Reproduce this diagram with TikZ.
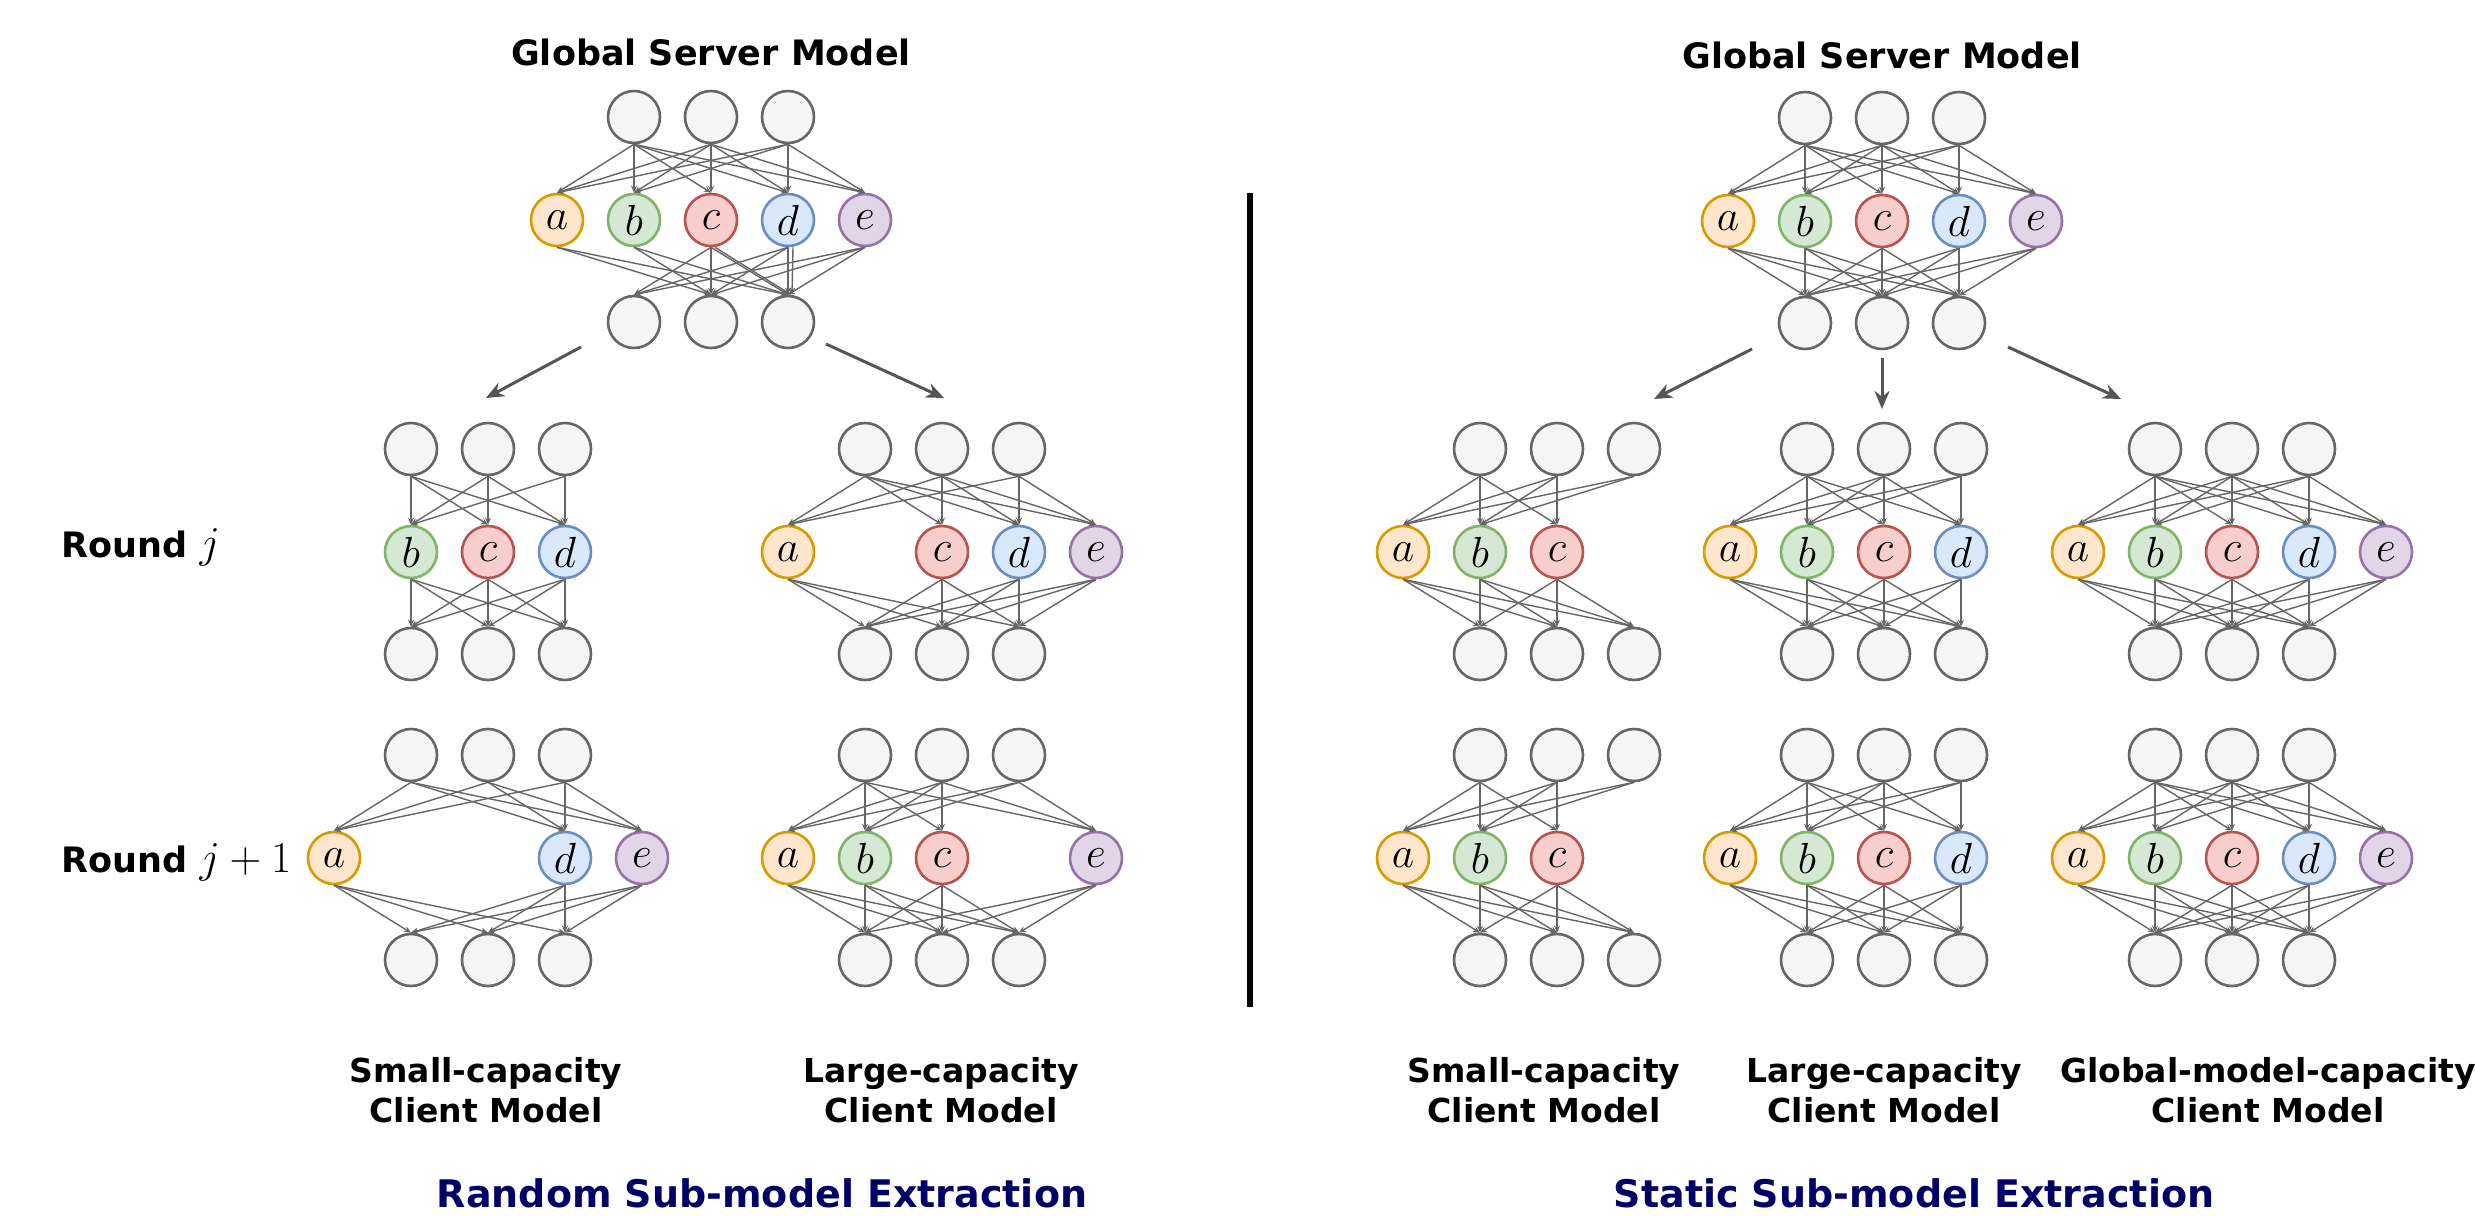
\documentclass[tikz,border=0pt]{standalone}
\usepackage{graphicx}
\usepackage{fontspec}
\setmainfont{DejaVu Sans}
\usetikzlibrary{arrows.meta}
\definecolor{gfill}{HTML}{F5F5F5}\definecolor{gline}{HTML}{666666}
\definecolor{afill}{HTML}{FFE6CC}\definecolor{aline}{HTML}{D79B00}
\definecolor{bfill}{HTML}{D5E8D4}\definecolor{bline}{HTML}{82B366}
\definecolor{cfill}{HTML}{F8CECC}\definecolor{cline}{HTML}{B85450}
\definecolor{dfill}{HTML}{DAE8FC}\definecolor{dline}{HTML}{6C8EBF}
\definecolor{efill}{HTML}{E1D5E7}\definecolor{eline}{HTML}{9673A6}
\definecolor{navy}{HTML}{000066}
\definecolor{arrcol}{HTML}{555555}
\tikzset{
  neuron/.style={circle, minimum size=52pt, inner sep=0pt, line width=2.6pt,
    draw=#1line, fill=#1fill},
  edge/.style={draw=gline, line width=1.4pt, -{Stealth[length=7pt,width=6pt]}},
  bigarrow/.style={draw=arrcol, line width=3pt, -{Stealth[length=18pt,width=15pt]}},
  ttl/.style={font=\fontsize{35}{40}\selectfont\bfseries},
  lbl/.style={font=\fontsize{33}{40}\selectfont\bfseries, align=center},
  sect/.style={font=\fontsize{38}{40}\selectfont\bfseries, text=navy},
}
\newcommand{\nletter}[1]{\scalebox{1.75}{\Huge$#1$}}
\newcommand{\rndmath}[1]{\scalebox{1.77}{\Huge$#1$}}
\def\skipkey{3c}
% prefix, cx, ytop, list letter/slot
\newcommand{\netmodel}[4]{%
  \foreach \i in {1,2,3} {
    \node[neuron=g] (#1t\i) at ({#2+(\i-2)*77},{#3}) {};
    \node[neuron=g] (#1b\i) at ({#2+(\i-2)*77},{#3+205}) {};
  }
  \foreach \m/\k in {#4} {
    \node[neuron=\m] (#1\m) at ({#2+(\k-3)*77},{#3+103}) {\nletter{\m}};
  }
}
\newcommand{\topedges}[2]{%
  \foreach \m/\k in {#2} {
    \foreach \i in {1,2,3} {
      \edef\curkey{\i\m}
      \ifx\curkey\skipkey\else
        \draw[edge] (#1t\i.south) -- (#1\m.north);
      \fi
    }
  }
}
\newcommand{\botedges}[2]{%
  \foreach \m/\k in {#2} {
    \foreach \i in {1,2,3} {
      \draw[edge] (#1\m.south) -- (#1b\i.north);
    }
  }
}
\newcommand{\fullnet}[4]{\netmodel{#1}{#2}{#3}{#4}\topedges{#1}{#4}\botedges{#1}{#4}}
\begin{document}
\begin{tikzpicture}[x=1pt,y=-1pt]
\useasboundingbox (0,0) rectangle (2475,1215);
% ---------- left: random ----------
\node[ttl] (gl) at (711,52) {Global Server Model};
\netmodel{LG}{711}{117}{a/1,b/2,c/3,d/4,e/5}
\topedges{LG}{a/1,b/2,c/3,d/4,e/5}
\draw[edge] (LGa.south) -- (LGb2.north);
\draw[edge] (LGa.south) -- (LGb3.north);
\draw[edge] (LGb.south) -- (LGb2.north);
\draw[edge] (LGb.south) -- (LGb3.north);
\draw[edge] (LGc.south) -- (LGb1.north);
\draw[edge] (LGc.south) -- (LGb2.north);
\draw[edge] (LGc.south) -- (LGb3.north);
\draw[edge] ([xshift=4pt]LGc.south) -- ([xshift=3pt]LGb3.north);
\draw[edge] (LGd.south) -- (LGb1.north);
\draw[edge] (LGd.south) -- (LGb2.north);
\draw[edge] (LGd.south) -- (LGb3.north);
\draw[edge] ([xshift=5pt]LGd.south) -- ([xshift=4pt]LGb3.north);
\draw[edge] (LGe.south) -- (LGb1.north);
\draw[edge] (LGe.south) -- (LGb2.north);
\draw[edge] (LGe.south) -- (LGb3.north);

\fullnet{LSJ}{488}{449}{b/2,c/3,d/4}
\fullnet{LLJ}{942}{449}{a/1,c/3,d/4,e/5}
\fullnet{LSK}{488}{755}{a/1,d/4,e/5}
\fullnet{LLK}{942}{755}{a/1,b/2,c/3,e/5}

\node[ttl, anchor=base west] (rj) at (58,557) {Round \rndmath{j}};
\node[ttl, anchor=base west] (rk) at (58,872) {Round \rndmath{j+1}};

\coordinate (A1s) at (581,347); \coordinate (A1e) at (486,398);
\coordinate (A2s) at (826,344); \coordinate (A2e) at (944,398);
\draw[bigarrow] (A1s) -- (A1e);
\draw[bigarrow] (A2s) -- (A2e);

\node[lbl] (ls) at (486,1090) {Small-capacity\\Client Model};
\node[lbl] (ll) at (941,1090) {Large-capacity\\Client Model};
\node[sect] (sl) at (762,1193) {Random Sub-model Extraction};

% ---------- divider ----------
\coordinate (D1) at (1250,193); \coordinate (D2) at (1250,1007);
\draw[line width=6pt] (D1) -- (D2);

% ---------- right: static ----------
\node[ttl] (gr) at (1882,55) {Global Server Model};
\fullnet{RG}{1882}{118}{a/1,b/2,c/3,d/4,e/5}
\fullnet{RSJ}{1557}{449}{a/1,b/2,c/3}
\fullnet{RLJ}{1884}{449}{a/1,b/2,c/3,d/4}
\fullnet{RCJ}{2232}{449}{a/1,b/2,c/3,d/4,e/5}
\fullnet{RSK}{1557}{755}{a/1,b/2,c/3}
\fullnet{RLK}{1884}{755}{a/1,b/2,c/3,d/4}
\fullnet{RCK}{2232}{755}{a/1,b/2,c/3,d/4,e/5}

\coordinate (A3s) at (1752,349); \coordinate (A3e) at (1654,399);
\coordinate (A4s) at (1882,358); \coordinate (A4e) at (1882,409);
\coordinate (A5s) at (2008,347); \coordinate (A5e) at (2121,399);
\draw[bigarrow] (A3s) -- (A3e);
\draw[bigarrow] (A4s) -- (A4e);
\draw[bigarrow] (A5s) -- (A5e);

\node[lbl] (rs) at (1544,1090) {Small-capacity\\Client Model};
\node[lbl] (rl) at (1884,1090) {Large-capacity\\Client Model};
\node[lbl] (rc) at (2268,1090) {Global-model-capacity\\Client Model};
\node[sect] (sr) at (1914,1193) {Static Sub-model Extraction};
\end{tikzpicture}
\end{document}
